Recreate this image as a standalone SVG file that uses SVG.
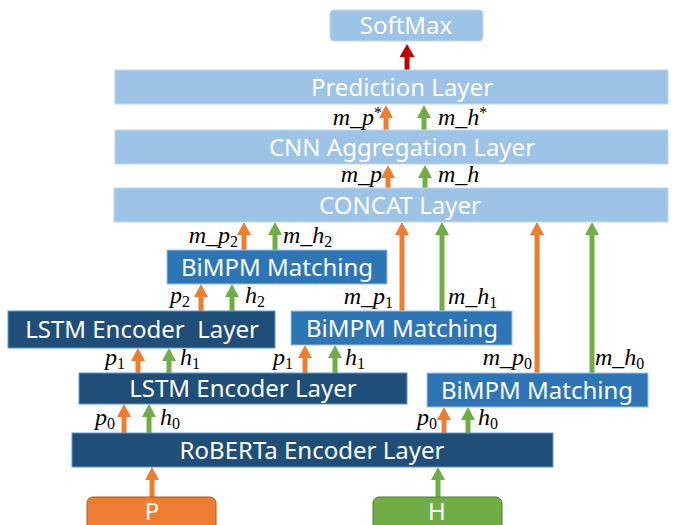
<svg xmlns="http://www.w3.org/2000/svg" width="685" height="525" viewBox="0 0 685 525">
<defs>
<style>
.light{fill:#9DC3E6;stroke:#BDD7EE;stroke-width:1}
.mid{fill:#2E75B6;stroke:#9DC3E6;stroke-width:1}
.dark{fill:#1F4E79;stroke:#5B9BD5;stroke-width:1}
.t{font-family:"Noto Sans","Open Sans",sans-serif;font-size:24px;fill:#fff;text-anchor:middle}
.m{font-family:"Liberation Serif","DejaVu Serif",serif;font-style:italic;font-size:24px;fill:#000}
.s{font-style:normal;font-size:16px}
.e{text-anchor:end}
.o{stroke:#ED7D31;stroke-width:5;fill:none;marker-end:url(#ho)}
.g{stroke:#70AD47;stroke-width:5;fill:none;marker-end:url(#hg)}
.r{stroke:#C00000;stroke-width:5;fill:none;marker-end:url(#hr)}
</style>
<marker id="ho" markerUnits="userSpaceOnUse" markerWidth="13" markerHeight="14" refX="0" refY="7" orient="auto" viewBox="0 0 13 14"><path d="M0,0L13,7L0,14z" fill="#ED7D31"/></marker>
<marker id="hg" markerUnits="userSpaceOnUse" markerWidth="13" markerHeight="14" refX="0" refY="7" orient="auto" viewBox="0 0 13 14"><path d="M0,0L13,7L0,14z" fill="#70AD47"/></marker>
<marker id="hr" markerUnits="userSpaceOnUse" markerWidth="13" markerHeight="15" refX="0" refY="7.5" orient="auto" viewBox="0 0 13 15"><path d="M0,0L13,7.5L0,15z" fill="#C00000"/></marker>
</defs>
<rect width="685" height="525" fill="#fff"/>

<g id="connectors">
<line class="r" x1="407" y1="70" x2="407" y2="57"/>
<line class="o" x1="386" y1="130" x2="386" y2="118"/>
<line class="g" x1="424" y1="130" x2="424" y2="118"/>
<line class="o" x1="388" y1="188" x2="388" y2="178"/>
<line class="g" x1="425" y1="188" x2="425" y2="178"/>
<line class="o" x1="244" y1="250" x2="244" y2="235"/>
<line class="g" x1="275" y1="250" x2="275" y2="235"/>
<line class="o" x1="201" y1="311" x2="201" y2="297"/>
<line class="g" x1="232" y1="311" x2="232" y2="297"/>
<line class="o" x1="402" y1="311" x2="402" y2="235"/>
<line class="g" x1="442" y1="311" x2="442" y2="235"/>
<line class="o" x1="537" y1="373" x2="537" y2="235"/>
<line class="g" x1="592" y1="373" x2="592" y2="235"/>
<line class="o" x1="138" y1="373" x2="138" y2="361"/>
<line class="g" x1="169" y1="373" x2="169" y2="361"/>
<line class="o" x1="305" y1="373" x2="305" y2="358"/>
<line class="g" x1="335" y1="373" x2="335" y2="358"/>
<line class="o" x1="124" y1="433" x2="124" y2="417"/>
<line class="g" x1="149" y1="433" x2="149" y2="417"/>
<line class="o" x1="444" y1="433" x2="444" y2="420"/>
<line class="g" x1="468" y1="433" x2="468" y2="420"/>
<line class="o" x1="152" y1="497" x2="152" y2="480"/>
<line class="g" x1="438" y1="497" x2="438" y2="480"/>
</g>

<g id="softmax"><rect class="light" x="330" y="10" width="153" height="31" rx="4"/><text class="t" x="406" y="34">SoftMax</text></g>
<g id="prediction"><rect class="light" x="115" y="70" width="553" height="34"/><text class="t" x="402" y="96">Prediction Layer</text></g>
<g id="cnn"><rect class="light" x="115" y="130" width="553" height="34"/><text class="t" x="402" y="156">CNN Aggregation Layer</text></g>
<g id="concat"><rect class="light" x="114" y="188" width="554" height="34"/><text class="t" x="400" y="214">CONCAT Layer</text></g>
<g id="bimpm2"><rect class="mid" x="167" y="250" width="220" height="34"/><text class="t" x="277" y="276">BiMPM Matching</text></g>
<g id="lstm2"><rect class="dark" x="8" y="311" width="267" height="37"/><text class="t" x="142" y="338" xml:space="preserve">LSTM Encoder  Layer</text></g>
<g id="bimpm1"><rect class="mid" x="291" y="311" width="221" height="34"/><text class="t" x="402" y="337">BiMPM Matching</text></g>
<g id="lstm1"><rect class="dark" x="79" y="373" width="328" height="31"/><text class="t" x="243" y="397">LSTM Encoder Layer</text></g>
<g id="bimpm0"><rect class="mid" x="427" y="373" width="221" height="34"/><text class="t" x="537" y="399">BiMPM Matching</text></g>
<g id="roberta"><rect class="dark" x="72" y="433" width="481" height="34"/><text class="t" x="312" y="459">RoBERTa Encoder Layer</text></g>
<g id="P"><rect x="87" y="497" width="129" height="34" rx="6" fill="#ED7D31" stroke="#AE5A21"/><text class="t" x="152" y="520">P</text></g>
<g id="H"><rect x="373" y="497" width="129" height="34" rx="6" fill="#70AD47" stroke="#507E32"/><text class="t" x="437" y="520">H</text></g>

<g id="labels">
<text class="m e" x="382" y="125">m_p<tspan class="s" font-size="14" dy="-7">*</tspan></text>
<text class="m" x="438" y="125">m_h<tspan class="s" font-size="14" dy="-7">*</tspan></text>
<text class="m e" x="382" y="182">m_p</text>
<text class="m" x="438" y="182">m_h</text>
<text class="m e" x="238" y="243">m_p<tspan class="s" dy="4">2</tspan></text>
<text class="m" x="283" y="243">m_h<tspan class="s" dy="4">2</tspan></text>
<text class="m e" x="190" y="303">p<tspan class="s" dy="4">2</tspan></text>
<text class="m" x="245" y="303">h<tspan class="s" dy="4">2</tspan></text>
<text class="m e" x="393" y="304">m_p<tspan class="s" dy="4">1</tspan></text>
<text class="m" x="448" y="304">m_h<tspan class="s" dy="4">1</tspan></text>
<text class="m e" x="125" y="365">p<tspan class="s" dy="4">1</tspan></text>
<text class="m" x="180" y="365">h<tspan class="s" dy="4">1</tspan></text>
<text class="m e" x="293" y="365">p<tspan class="s" dy="4">1</tspan></text>
<text class="m" x="345" y="365">h<tspan class="s" dy="4">1</tspan></text>
<text class="m e" x="532" y="365">m_p<tspan class="s" dy="4">0</tspan></text>
<text class="m" x="595" y="365">m_h<tspan class="s" dy="4">0</tspan></text>
<text class="m e" x="115" y="425">p<tspan class="s" dy="4">0</tspan></text>
<text class="m" x="160" y="425">h<tspan class="s" dy="4">0</tspan></text>
<text class="m e" x="437" y="425">p<tspan class="s" dy="4">0</tspan></text>
<text class="m" x="478" y="425">h<tspan class="s" dy="4">0</tspan></text>
</g>
</svg>
